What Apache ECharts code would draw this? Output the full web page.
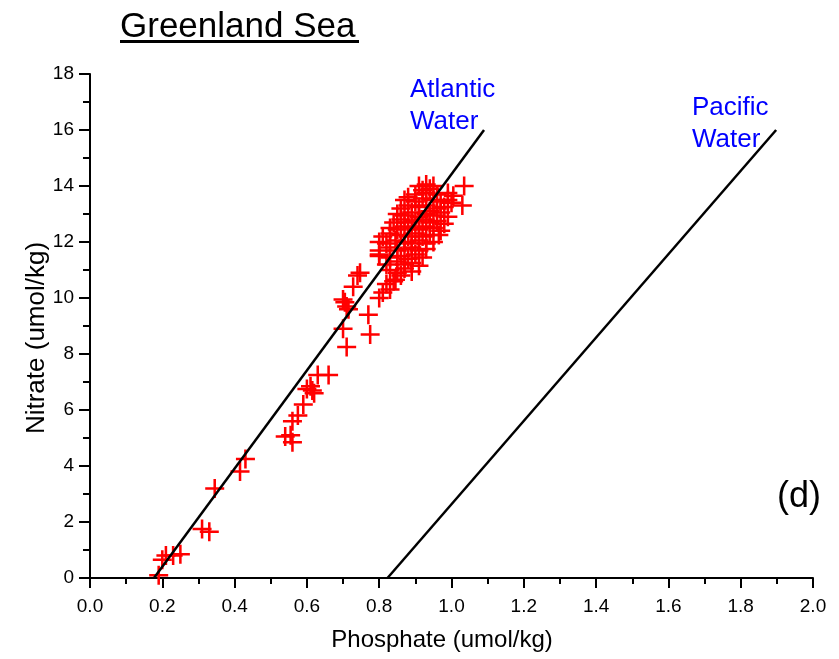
<!DOCTYPE html>
<html>
<head>
<meta charset="utf-8">
<script src="https://cdn.jsdelivr.net/npm/echarts@6/dist/echarts.min.js"></script>
<style>
  html, body { margin: 0; padding: 0; background: #fff; }
  #chart { width: 839px; height: 659px; }
</style>
</head>
<body>
<div id="chart"></div>
<script>
// Phosphate (x) and nitrate (y) samples, umol/kg
const phosphate = [
  0.19, 0.20, 0.21, 0.23, 0.25, 0.31, 0.33, 0.345, 0.415, 0.43,
  0.54, 0.555, 0.56, 0.56, 0.575, 0.59, 0.60, 0.61, 0.615, 0.62, 0.63, 0.66,
  0.70, 0.71, 0.705, 0.71, 0.715, 0.70, 0.728, 0.747, 0.74, 0.77, 0.775, 0.80, 0.81, 0.82, 0.83, 0.84, 0.80,
  0.91, 0.93, 0.95, 0.94, 0.92, 1.035,
  0.90, 0.93, 0.96, 0.99, 1.005, 0.88,
  0.87, 0.90, 0.92, 0.95, 0.97, 0.99, 1.00,
  0.86, 0.88, 0.91, 0.93, 0.96, 0.98, 1.03, 0.94,
  0.85, 0.87, 0.89, 0.91, 0.93, 0.95, 0.97, 0.99,
  0.84, 0.86, 0.88, 0.90, 0.92, 0.94, 0.96, 0.98,
  0.83, 0.85, 0.87, 0.89, 0.91, 0.93, 0.95, 0.97,
  0.81, 0.83, 0.86, 0.88, 0.90, 0.92, 0.94, 0.965,
  0.80, 0.82, 0.845, 0.87, 0.89, 0.91, 0.93, 0.95,
  0.80, 0.83, 0.85, 0.87, 0.89, 0.91, 0.93,
  0.80, 0.83, 0.86, 0.88, 0.90, 0.92,
  0.82, 0.85, 0.87, 0.89, 0.91,
  0.83, 0.85, 0.87, 0.89,
  0.845, 0.86
];
const nitrate = [
  0.1, 0.65, 0.8, 0.8, 0.85, 1.75, 1.65, 3.2, 3.8, 4.25,
  5.05, 5.1, 4.85, 5.6, 5.8, 6.2, 6.75, 6.85, 6.7, 6.6, 7.25, 7.25,
  8.9, 8.25, 9.85, 9.7, 9.6, 9.95, 10.4, 10.9, 10.8, 9.4, 8.7, 10.0, 10.2, 10.5, 10.3, 10.6, 11.5,
  14.0, 14.05, 14.0, 13.9, 13.85, 14.0,
  13.7, 13.75, 13.7, 13.75, 13.65, 13.6,
  13.5, 13.45, 13.55, 13.5, 13.45, 13.5, 13.4,
  13.2, 13.3, 13.25, 13.3, 13.2, 13.25, 13.3, 13.1,
  13.0, 12.95, 13.05, 12.9, 13.0, 12.95, 13.05, 12.9,
  12.7, 12.8, 12.7, 12.75, 12.8, 12.7, 12.75, 12.65,
  12.5, 12.45, 12.55, 12.5, 12.45, 12.55, 12.5, 12.4,
  12.2, 12.3, 12.25, 12.2, 12.3, 12.2, 12.25, 12.25,
  12.0, 11.95, 12.05, 12.0, 11.95, 12.05, 11.95, 12.0,
  11.7, 11.8, 11.7, 11.75, 11.8, 11.7, 11.75,
  11.55, 11.45, 11.5, 11.4, 11.55, 11.45,
  11.2, 11.3, 11.2, 11.25, 11.15,
  11.0, 10.9, 11.05, 10.95,
  10.65, 10.8
];

// End points of the two water-mass reference lines
const atlanticP = [0.177, 1.09];
const atlanticN = [0, 16];
const pacificP = [0.823, 1.898];
const pacificN = [0, 16];

const xTicks = ['0.0','0.2','0.4','0.6','0.8','1.0','1.2','1.4','1.6','1.8','2.0'];

const FONT = 'Liberation Sans, Arial, sans-serif';
const plusPath = 'path://M6.5,0h2v6.5h6.5v2h-6.5v6.5h-2v-6.5h-6.5v-2h6.5z';

const chart = echarts.init(document.getElementById('chart'), null, { renderer: 'canvas' });

const samples = phosphate.map((p, i) => [p, nitrate[i]]);

chart.setOption({
  animation: false,
  backgroundColor: '#ffffff',
  textStyle: { fontFamily: FONT, color: '#000' },
  grid: { left: 90, top: 74, width: 723, height: 504, containLabel: false },
  xAxis: {
    type: 'value', min: 0, max: 2, interval: 0.2,
    axisLine: { onZero: false, lineStyle: { color: '#000', width: 2 } },
    axisTick: { show: true, inside: false, length: 10, lineStyle: { color: '#000', width: 2 } },
    minorTick: { show: true, splitNumber: 2, length: 6, lineStyle: { color: '#000', width: 2 } },
    splitLine: { show: false },
    axisLabel: {
      margin: 19, fontSize: 19, color: '#000', fontFamily: FONT,
      formatter: (v) => xTicks[Math.round(v / 0.2)]
    }
  },
  yAxis: {
    type: 'value', min: 0, max: 18, interval: 2,
    axisLine: { show: true, onZero: false, lineStyle: { color: '#000', width: 2 } },
    axisTick: { show: true, inside: false, length: 11, lineStyle: { color: '#000', width: 2 } },
    minorTick: { show: true, splitNumber: 2, length: 7, lineStyle: { color: '#000', width: 2 } },
    splitLine: { show: false },
    axisLabel: { margin: 16, fontSize: 19, color: '#000', fontFamily: FONT }
  },
  series: [
    {
      name: 'Samples', type: 'scatter', data: samples,
      symbol: plusPath, symbolSize: 19,
      itemStyle: { color: '#ff0000', opacity: 1 },
      z: 2
    },
    {
      name: 'Atlantic Water', type: 'line',
      data: atlanticP.map((p, i) => [p, atlanticN[i]]),
      showSymbol: false, symbol: 'none',
      lineStyle: { color: '#000', width: 2.5 },
      z: 3
    },
    {
      name: 'Pacific Water', type: 'line',
      data: pacificP.map((p, i) => [p, pacificN[i]]),
      showSymbol: false, symbol: 'none',
      lineStyle: { color: '#000', width: 2.5 },
      z: 3
    }
  ],
  graphic: [
    {
      type: 'text', left: 120, top: 10,
      style: { text: 'Greenland Sea', fontSize: 35, fontFamily: FONT, fill: '#000' }
    },
    { type: 'rect', shape: { x: 120, y: 40, width: 239, height: 3 }, style: { fill: '#000' } },
    {
      type: 'text', x: 410, y: 74,
      style: { text: 'Atlantic\nWater', fontSize: 26, lineHeight: 32, fontFamily: FONT, fill: '#0000ff' }
    },
    {
      type: 'text', x: 692, y: 92,
      style: { text: 'Pacific\nWater', fontSize: 26, lineHeight: 32, fontFamily: FONT, fill: '#0000ff' }
    },
    {
      type: 'text', x: 821, y: 497,
      style: { text: '(d)', fontSize: 36, fontFamily: FONT, fill: '#000', align: 'right', verticalAlign: 'middle' }
    },
    {
      type: 'text', x: 442, y: 640,
      style: { text: 'Phosphate (umol/kg)', fontSize: 24, fontFamily: FONT, fill: '#000', align: 'center', verticalAlign: 'middle' }
    },
    {
      type: 'text', x: 37, y: 338, rotation: Math.PI / 2,
      style: { text: 'Nitrate (umol/kg)', fontSize: 26, fontFamily: FONT, fill: '#000', align: 'center', verticalAlign: 'middle' }
    }
  ]
});
</script>
</body>
</html>
